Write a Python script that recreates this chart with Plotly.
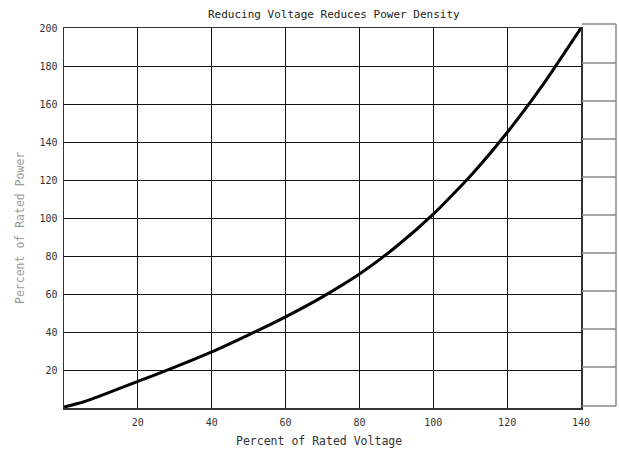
import plotly.graph_objects as go

# Data
voltage = [0, 5, 10, 20, 30, 40, 50, 60, 70, 80, 90, 100, 110, 120, 130, 140]
power = [0.5, 3, 6.5, 14, 21.5, 29.5, 38.5, 48, 58.5, 70.5, 85, 102, 122, 145, 171, 200]

x_ticks = [20, 40, 60, 80, 100, 120, 140]
y_ticks = [20, 40, 60, 80, 100, 120, 140, 160, 180, 200]

title_text = "Reducing Voltage Reduces Power Density"
x_title = "Percent of Rated Voltage"
y_title = "Percent of Rated Power"

FONT = "DejaVu Sans Mono"
Y_MAX = 200

fig = go.Figure()
fig.add_trace(go.Scatter(
    x=voltage, y=power, mode="lines",
    line=dict(color="#000000", width=3, shape="spline", smoothing=0.5),
    hoverinfo="skip", showlegend=False,
))

W, H = 619, 456
L, R, T, B = 64, 38, 28, 48
pw = W - L - R
ph = H - T - B

axis_common = dict(
    showline=True, linecolor="#333333", linewidth=1.5, mirror=True,
    showgrid=True, gridcolor="#111111", gridwidth=1,
    zeroline=False, ticks="", tickfont=dict(family=FONT, size=10, color="#333333"),
)

fig.update_xaxes(range=[0, 140], tickvals=x_ticks, ticktext=[str(v) for v in x_ticks],
                 ticklabelstandoff=4, **axis_common)
fig.update_yaxes(range=[0, Y_MAX], tickvals=y_ticks, ticktext=[str(v) for v in y_ticks],
                 ticklabelstandoff=3, **axis_common)

# Decorative side scale box to the right of the plot (paper coords, not clipped)
box_color = "#888888"
x_left = 1.0 + 1 / pw
x_right = 1.0 + 35 / pw
y_top = 1.0 + 4 / ph
y_bot = 2 / ph
lw = dict(color=box_color, width=1.5)
shapes = [
    dict(type="line", xref="paper", yref="paper", x0=x_left, x1=x_right, y0=y_top, y1=y_top, line=lw),
    dict(type="line", xref="paper", yref="paper", x0=x_right, x1=x_right, y0=y_top, y1=y_bot, line=lw),
    dict(type="line", xref="paper", yref="paper", x0=x_left, x1=x_right, y0=y_bot, y1=y_bot, line=lw),
]
for v in y_ticks[:-1]:
    yp = v / Y_MAX + 3 / ph
    shapes.append(dict(type="line", xref="paper", yref="paper", x0=x_left, x1=x_right,
                       y0=yp, y1=yp, line=lw))

annotations = [
    dict(text=title_text, xref="paper", yref="paper", x=(334 - L) / pw, y=1 + 14 / ph,
         yanchor="middle", xanchor="center", showarrow=False,
         font=dict(family=FONT, size=11, color="#222222")),
    dict(text=x_title, xref="paper", yref="paper", x=(319 - L) / pw, y=-33 / ph,
         yanchor="middle", xanchor="center", showarrow=False,
         font=dict(family=FONT, size=11.5, color="#333333")),
    dict(text=y_title, xref="paper", yref="paper", x=-44 / pw, y=(408 - 228) / ph,
         yanchor="middle", xanchor="center", showarrow=False, textangle=-90,
         font=dict(family=FONT, size=11.5, color="#9a9a9a")),
]

fig.update_layout(
    width=W, height=H,
    margin=dict(l=L, r=R, t=T, b=B),
    paper_bgcolor="white", plot_bgcolor="white",
    shapes=shapes, annotations=annotations,
    showlegend=False,
)

fig.write_html(
    "out.html",
    config={"displayModeBar": False, "staticPlot": True},
    post_script="document.body.style.margin='0';document.body.style.overflow='hidden';",
)
